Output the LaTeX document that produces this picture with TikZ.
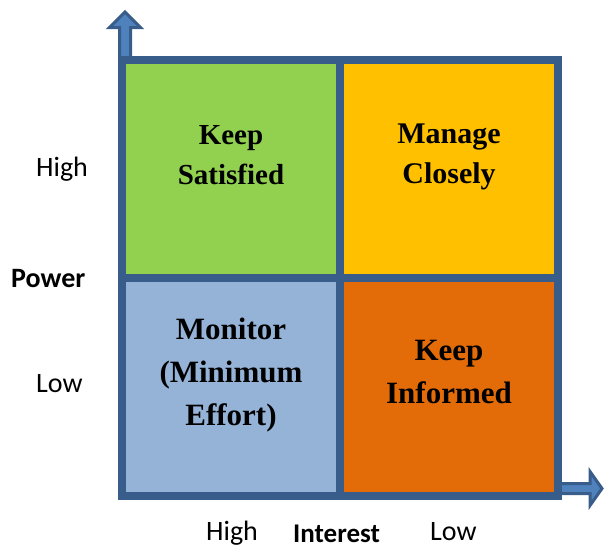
\documentclass[tikz,border=0pt]{standalone}
\usepackage{fontspec}
\setmainfont{Liberation Serif}
\newfontfamily\calibri{Carlito}
\definecolor{pg.frame}{HTML}{385D8A}
\definecolor{pg.arrow}{HTML}{4F81BD}
\definecolor{pg.green}{HTML}{92D050}
\definecolor{pg.gold}{HTML}{FFC000}
\definecolor{pg.blue}{HTML}{95B3D7}
\definecolor{pg.orange}{HTML}{E36C09}

\begin{document}
\begin{tikzpicture}[x=1pt,y=-1pt]
  \tikzset{quad/.append style={align=center, anchor=base, inner sep=0},
    lbl/.append style={font=\calibri\fontsize{28}{34}\selectfont,
      anchor=base west, inner sep=0},
    arr/.append style={draw=pg.frame, fill=pg.arrow, line width=3pt,
      line join=miter}}
  \useasboundingbox (0,0) rectangle (605,550);

  \fill[pg.green] (122,60) rectangle (340,278);
  \fill[pg.gold] (340,60) rectangle (558,278);
  \fill[pg.blue] (122,278) rectangle (340,496);
  \fill[pg.orange] (340,278) rectangle (558,496);

  % axis arrows
  \draw[arr] (119.5,58) -- (119.5,27.5) -- (109.5,27.5) -- (125,12)
    -- (140.5,27.5) -- (130.5,27.5) -- (130.5,58) -- cycle;
  \draw[arr] (556,483.5) -- (590,483.5) -- (590,471.5) -- (602,488.5)
    -- (590,505.5) -- (590,493.5) -- (556,493.5) -- cycle;

  % frame
  \draw[pg.frame, line width=8pt] (122,60) rectangle (558,496);
  \draw[pg.frame, line width=8pt] (340,60) -- (340,496);
  \draw[pg.frame, line width=8pt] (122,278) -- (558,278);

  \node[quad, font=\fontsize{29}{40}\selectfont\bfseries] (ks) at (231,184)
    {Keep\\Satisfied};
  \node[quad, font=\fontsize{30}{40}\selectfont\bfseries] (mc) at (449,183)
    {Manage\\Closely};
  \node[quad, font=\fontsize{31}{43}\selectfont\bfseries] (mo) at (231,425)
    {Monitor\\(Minimum\\Effort)};
  \node[quad, font=\fontsize{31}{43}\selectfont\bfseries] (ki) at (449,403)
    {Keep\\Informed};

  \node[lbl] (phigh) at (36,176) {High};
  \node[lbl, font=\calibri\fontsize{28}{34}\selectfont\bfseries] (power)
    at (11,287) {Power};
  \node[lbl] (plow) at (36,392) {Low};
  \node[lbl] (ihigh) at (206,540) {High};
  \node[lbl, font=\calibri\fontsize{27}{32}\selectfont\bfseries]
    (interest) at (293,542) {Interest};
  \node[lbl] (ilow) at (430,540) {Low};
\end{tikzpicture}
\end{document}
